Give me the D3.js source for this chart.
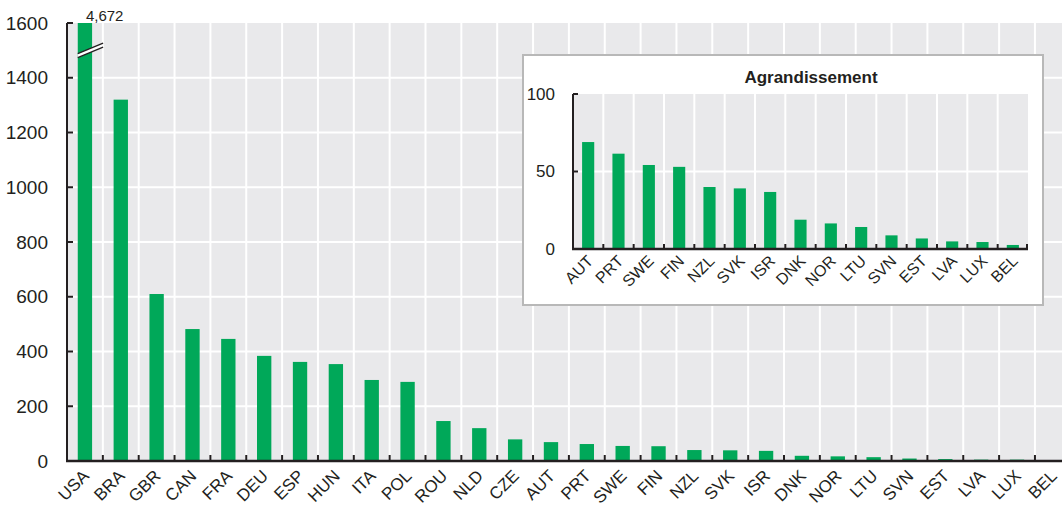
<!DOCTYPE html>
<html><head><meta charset="utf-8">
<script src="https://cdn.jsdelivr.net/npm/d3@7"></script>
<style>
html,body{margin:0;padding:0;background:#fff;}
svg{display:block;font-family:"Liberation Sans",Arial,Helvetica,sans-serif;}
</style></head>
<body><svg id="c" width="1062" height="507"></svg>
<script>
const categories = ["USA","BRA","GBR","CAN","FRA","DEU","ESP","HUN","ITA","POL","ROU","NLD","CZE","AUT","PRT","SWE","FIN","NZL","SVK","ISR","DNK","NOR","LTU","SVN","EST","LVA","LUX","BEL"];
const values = [4672,1320,610,482,446,384,362,354,296,289,146,120,79,69,62,55,54,40,39,37,19,17,14,9,7,5,5,3];
const yTicks = [0,200,400,600,800,1000,1200,1400,1600];
const yMax = 1600;
const breakValue = 1500;

const insetTitle = "Agrandissement";
const insetCategories = ["AUT","PRT","SWE","FIN","NZL","SVK","ISR","DNK","NOR","LTU","SVN","EST","LVA","LUX","BEL"];
const insetValues = [69,61.5,54.2,53,40,39.1,36.8,18.9,16.5,14.2,8.8,6.8,4.9,4.5,2.6];
const insetTicks = [0,50,100];

const GREEN = "#00a859", BG = "#e9e9eb", AX = "#231f20";
const svg = d3.select("#c");

// ---------- main chart ----------
const L = 67, T = 23, B = 461, step = 35.85;
const R = L + step * categories.length;
const x = d3.scaleBand().domain(categories).range([L, R]).paddingInner(0.6).paddingOuter(0.3);
const y = d3.scaleLinear().domain([0, yMax]).range([B, T]);

svg.append("rect").attr("x", L).attr("y", T).attr("width", R - L).attr("height", B - T).attr("fill", BG);
svg.append("g").selectAll("line").data(yTicks.filter(d => d > 0 && d < yMax)).join("line")
  .attr("x1", L).attr("x2", R).attr("y1", d => y(d)).attr("y2", d => y(d))
  .attr("stroke", "#fff").attr("stroke-width", 2);
const bounds = categories.slice(0, -1).map(c => x(c) + x.bandwidth() / 2 + x.step() / 2);
svg.append("g").selectAll("line").data(bounds).join("line")
  .attr("x1", d => d).attr("x2", d => d).attr("y1", T).attr("y2", B)
  .attr("stroke", "#fff").attr("stroke-width", 2);

svg.append("g").selectAll("rect").data(categories).join("rect")
  .attr("x", d => x(d)).attr("width", x.bandwidth())
  .attr("y", (d, i) => y(Math.min(values[i], yMax)))
  .attr("height", (d, i) => B - y(Math.min(values[i], yMax)))
  .attr("fill", GREEN);

categories.forEach((c, i) => {
  if (values[i] <= yMax) return;
  const x0 = x(c), x1 = x(c) + x.bandwidth() + 11, yc = y(breakValue);
  const dy = (x1 - x0) * 0.42;
  const g = svg.append("g");
  g.append("path").attr("d", `M${x0},${yc + dy/2 + 2}L${x1},${yc - dy/2 + 2}L${x1},${yc - dy/2 - 2}L${x0},${yc + dy/2 - 2}Z`).attr("fill", "#fff");
  [-2, 2].forEach(o => g.append("line").attr("x1", x0).attr("x2", x1)
    .attr("y1", yc + dy/2 + o).attr("y2", yc - dy/2 + o).attr("stroke", AX).attr("stroke-width", 1.3));
  svg.append("text").attr("x", x(c) + x.bandwidth() / 2 + 1).attr("y", T - 2)
    .attr("font-size", 15).attr("fill", AX).text(d3.format(",")(values[i]));
});

const yAxis = svg.append("g");
yAxis.append("line").attr("x1", L).attr("x2", L).attr("y1", T).attr("y2", B + 1).attr("stroke", AX).attr("stroke-width", 2);
yAxis.selectAll("line.t").data(yTicks.filter(d => d > 0)).join("line").attr("class", "t")
  .attr("x1", L).attr("x2", L + 6).attr("y1", d => y(d)).attr("y2", d => y(d)).attr("stroke", AX).attr("stroke-width", 2);
yAxis.selectAll("text").data(yTicks).join("text")
  .attr("x", L - 19).attr("y", d => y(d)).attr("dy", "0.35em").attr("text-anchor", "end")
  .attr("font-size", 19).attr("fill", AX).text(d => d);

const xAxis = svg.append("g");
xAxis.append("line").attr("x1", L - 1).attr("x2", R).attr("y1", B).attr("y2", B).attr("stroke", AX).attr("stroke-width", 2.5);
xAxis.selectAll("line.t").data(bounds).join("line").attr("class", "t")
  .attr("x1", d => d).attr("x2", d => d).attr("y1", B).attr("y2", B - 6).attr("stroke", AX).attr("stroke-width", 2);
const xl = xAxis.selectAll("g.lab").data(categories).join("g").attr("class", "lab")
  .attr("transform", d => `translate(${x(d) + x.bandwidth() / 2 + 5},${B + 16})`);
xl.append("text").attr("transform", "rotate(-45)")
  .attr("text-anchor", "end")
  .attr("font-size", 17).attr("fill", AX).text(d => d);

// ---------- inset ----------
svg.append("rect").attr("x", 523).attr("y", 55).attr("width", 520).attr("height", 250)
  .attr("fill", "#fff").attr("stroke", "#b8b8b8").attr("stroke-width", 2);
const iL = 573, iR = 1028, iT = 94, iB = 249;
const xi = d3.scaleBand().domain(insetCategories).range([iL, iR]).paddingInner(0.6).paddingOuter(0.3);
const yi = d3.scaleLinear().domain([0, 100]).range([iB, iT]);

svg.append("text").attr("x", 811).attr("y", 83).attr("text-anchor", "middle")
  .attr("font-size", 17).attr("font-weight", "bold").attr("fill", AX).text(insetTitle);

svg.append("rect").attr("x", iL).attr("y", iT).attr("width", iR - iL).attr("height", iB - iT).attr("fill", BG);
svg.append("g").selectAll("line").data(insetTicks.filter(d => d > 0 && d < 100)).join("line")
  .attr("x1", iL).attr("x2", iR).attr("y1", d => yi(d)).attr("y2", d => yi(d))
  .attr("stroke", "#fff").attr("stroke-width", 2);
const iBounds = insetCategories.slice(0, -1).map(c => xi(c) + xi.bandwidth() / 2 + xi.step() / 2);
svg.append("g").selectAll("line").data(iBounds).join("line")
  .attr("x1", d => d).attr("x2", d => d).attr("y1", iT).attr("y2", iB)
  .attr("stroke", "#fff").attr("stroke-width", 2);
svg.append("g").selectAll("rect").data(insetCategories).join("rect")
  .attr("x", d => xi(d)).attr("width", xi.bandwidth())
  .attr("y", (d, i) => yi(insetValues[i])).attr("height", (d, i) => iB - yi(insetValues[i]))
  .attr("fill", GREEN);

const iy = svg.append("g");
iy.append("line").attr("x1", iL).attr("x2", iL).attr("y1", iT).attr("y2", iB + 1).attr("stroke", AX).attr("stroke-width", 2);
iy.selectAll("line.t").data(insetTicks.filter(d => d > 0)).join("line").attr("class", "t")
  .attr("x1", iL).attr("x2", iL + 5).attr("y1", d => yi(d)).attr("y2", d => yi(d)).attr("stroke", AX).attr("stroke-width", 2);
iy.selectAll("text").data(insetTicks).join("text")
  .attr("x", iL - 18).attr("y", d => yi(d)).attr("dy", "0.35em").attr("text-anchor", "end")
  .attr("font-size", 17).attr("fill", AX).text(d => d);
const ix = svg.append("g");
ix.append("line").attr("x1", iL - 1).attr("x2", iR).attr("y1", iB).attr("y2", iB).attr("stroke", AX).attr("stroke-width", 2.5);
ix.selectAll("line.t").data(iBounds.concat([iR - 1])).join("line").attr("class", "t")
  .attr("x1", d => d).attr("x2", d => d).attr("y1", iB).attr("y2", iB - 5).attr("stroke", AX).attr("stroke-width", 2);
const il = ix.selectAll("g.lab").data(insetCategories).join("g").attr("class", "lab")
  .attr("transform", d => `translate(${xi(d) + xi.bandwidth() / 2 + 6},${iB + 13})`);
il.append("text").attr("transform", "rotate(-45)")
  .attr("text-anchor", "end")
  .attr("font-size", 16).attr("fill", AX).text(d => d);
</script></body></html>
